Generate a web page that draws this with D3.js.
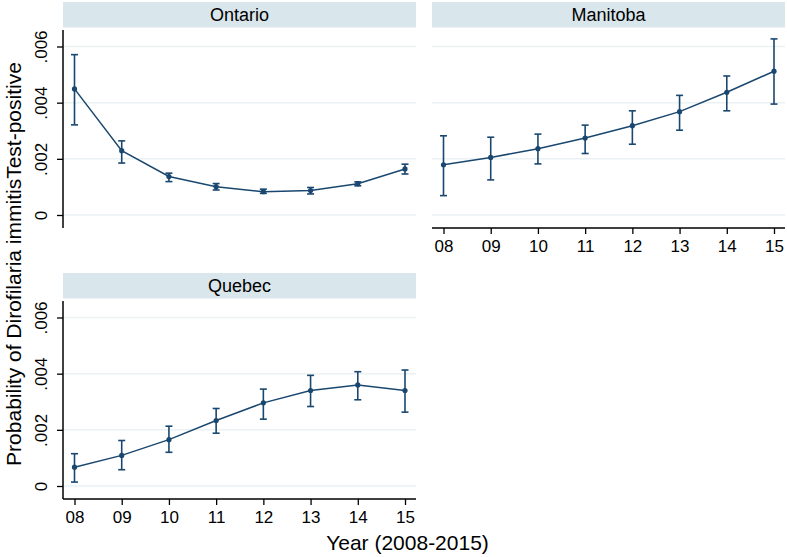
<!DOCTYPE html>
<html>
<head>
<meta charset="utf-8">
<script src="https://cdn.jsdelivr.net/npm/d3@7"></script>
<style>
  html, body { margin: 0; padding: 0; background: #fff; }
  svg { display: block; }
  text { font-family: "Liberation Sans", Arial, sans-serif; fill: #000; }
</style>
</head>
<body>
<svg id="chart" width="787" height="557"></svg>
<script>
// ---- Data ----
const years = [2008, 2009, 2010, 2011, 2012, 2013, 2014, 2015];
const xTickLabels = ["08", "09", "10", "11", "12", "13", "14", "15"];
const yTicks = [0, 0.002, 0.004, 0.006];
const yTickLabels = ["0", ".002", ".004", ".006"];

const ontarioEst = [0.00449, 0.00229, 0.00137, 0.00101, 0.00083, 0.00087, 0.00111, 0.00164];
const ontarioLo  = [0.00321, 0.00185, 0.00119, 0.00089, 0.00077, 0.00075, 0.00104, 0.00146];
const ontarioHi  = [0.00571, 0.00264, 0.00149, 0.00112, 0.00092, 0.00098, 0.00118, 0.00181];

const manitobaEst = [0.00179, 0.00205, 0.00236, 0.00274, 0.00318, 0.00368, 0.00437, 0.00512];
const manitobaLo  = [0.00069, 0.00125, 0.00182, 0.00219, 0.00252, 0.00302, 0.00371, 0.00395];
const manitobaHi  = [0.00282, 0.00277, 0.00288, 0.00320, 0.00371, 0.00426, 0.00495, 0.00627];

const quebecEst = [0.00067, 0.00109, 0.00165, 0.00233, 0.00296, 0.00340, 0.00360, 0.00340];
const quebecLo  = [0.00014, 0.00058, 0.00120, 0.00188, 0.00238, 0.00283, 0.00307, 0.00263];
const quebecHi  = [0.00115, 0.00162, 0.00213, 0.00276, 0.00345, 0.00394, 0.00407, 0.00413];

const yTitle = "Probability of Dirofilaria immitisTest-positive";
const xTitle = "Year (2008-2015)";

// ---- Layout ----
const navy = "#1a476f";
const stripFill = "#d9e6eb";
const gridColor = "#eaf2f3";
const panelW = 353, plotH = 198;

const panels = [
  { name: "Ontario",  left: 63,  top: 30,  est: ontarioEst,  lo: ontarioLo,  hi: ontarioHi,  yAxis: true,  xAxis: false },
  { name: "Manitoba", left: 432, top: 30,  est: manitobaEst, lo: manitobaLo, hi: manitobaHi, yAxis: false, xAxis: true },
  { name: "Quebec",   left: 63,  top: 301, est: quebecEst,   lo: quebecLo,   hi: quebecHi,   yAxis: true,  xAxis: true }
];

const svg = d3.select("#chart");

panels.forEach(p => {
  const g = svg.append("g");
  const x = d3.scaleLinear().domain([2008, 2015]).range([p.left + 11.5, p.left + 342]);
  const y = d3.scaleLinear().domain([0, 0.006]).range([p.top + 185, p.top + 16.5]);

  // strip header
  g.append("rect")
    .attr("x", p.left).attr("y", p.top - 28)
    .attr("width", panelW).attr("height", 25.5)
    .attr("fill", stripFill);
  g.append("text")
    .attr("x", p.left + panelW / 2).attr("y", p.top - 15)
    .attr("text-anchor", "middle").attr("dominant-baseline", "central")
    .attr("font-size", 18)
    .text(p.name);

  // gridlines
  g.selectAll("line.grid").data(yTicks).join("line")
    .attr("class", "grid")
    .attr("x1", p.left).attr("x2", p.left + panelW)
    .attr("y1", d => y(d)).attr("y2", d => y(d))
    .attr("stroke", gridColor).attr("stroke-width", 1.5);

  // y axis
  if (p.yAxis) {
    const ya = d3.axisLeft(y).tickValues(yTicks).tickSize(6).tickFormat((d, i) => yTickLabels[i]);
    const ag = g.append("g").attr("transform", `translate(${p.left},0)`).call(ya);
    ag.select(".domain").remove();
    ag.selectAll(".tick line").attr("stroke", "#000").attr("stroke-width", 1.3);
    ag.selectAll(".tick text")
      .attr("font-size", 17)
      .attr("font-family", "'Liberation Sans', Arial, sans-serif")
      .attr("text-anchor", "middle")
      .attr("x", 0).attr("dy", 0)
      .attr("transform", "translate(-16,0) rotate(-90)")
      .attr("y", 0);
    g.append("line")
      .attr("x1", p.left).attr("x2", p.left)
      .attr("y1", p.top).attr("y2", p.top + plotH)
      .attr("stroke", "#000").attr("stroke-width", 1.5);
  }

  // x axis
  if (p.xAxis) {
    const xa = d3.axisBottom(x).tickValues(years).tickSize(6).tickPadding(6).tickFormat((d, i) => xTickLabels[i]);
    const ag = g.append("g").attr("transform", `translate(0,${p.top + plotH})`).call(xa);
    ag.select(".domain").remove();
    ag.selectAll(".tick line").attr("stroke", "#000").attr("stroke-width", 1.3);
    ag.selectAll(".tick text")
      .attr("font-size", 17)
      .attr("font-family", "'Liberation Sans', Arial, sans-serif")
      .attr("fill", "#111");
    g.append("line")
      .attr("x1", p.left).attr("x2", p.left + panelW)
      .attr("y1", p.top + plotH).attr("y2", p.top + plotH)
      .attr("stroke", "#000").attr("stroke-width", 1.5);
  }

  // data
  const rows = years.map((yr, i) => ({ yr, est: p.est[i], lo: p.lo[i], hi: p.hi[i] }));
  const line = d3.line().x(d => x(d.yr)).y(d => y(d.est));
  g.append("path").datum(rows)
    .attr("d", line).attr("fill", "none")
    .attr("stroke", navy).attr("stroke-width", 1.5);

  const cap = 3.5;
  const eb = g.selectAll("g.eb").data(rows).join("g").attr("class", "eb");
  eb.append("line")
    .attr("x1", d => x(d.yr)).attr("x2", d => x(d.yr))
    .attr("y1", d => y(d.lo)).attr("y2", d => y(d.hi))
    .attr("stroke", navy).attr("stroke-width", 1.6);
  eb.append("line")
    .attr("x1", d => x(d.yr) - cap).attr("x2", d => x(d.yr) + cap)
    .attr("y1", d => y(d.hi)).attr("y2", d => y(d.hi))
    .attr("stroke", navy).attr("stroke-width", 1.6);
  eb.append("line")
    .attr("x1", d => x(d.yr) - cap).attr("x2", d => x(d.yr) + cap)
    .attr("y1", d => y(d.lo)).attr("y2", d => y(d.lo))
    .attr("stroke", navy).attr("stroke-width", 1.6);
  eb.append("circle")
    .attr("cx", d => x(d.yr)).attr("cy", d => y(d.est))
    .attr("r", 2.6).attr("fill", navy);
});

// axis titles
svg.append("text")
  .attr("transform", "translate(21,264) rotate(-90)")
  .attr("text-anchor", "middle")
  .attr("font-size", 21)
  .text(yTitle);

svg.append("text")
  .attr("x", 407.5).attr("y", 550)
  .attr("text-anchor", "middle")
  .attr("font-size", 21)
  .text(xTitle);
</script>
</body>
</html>
